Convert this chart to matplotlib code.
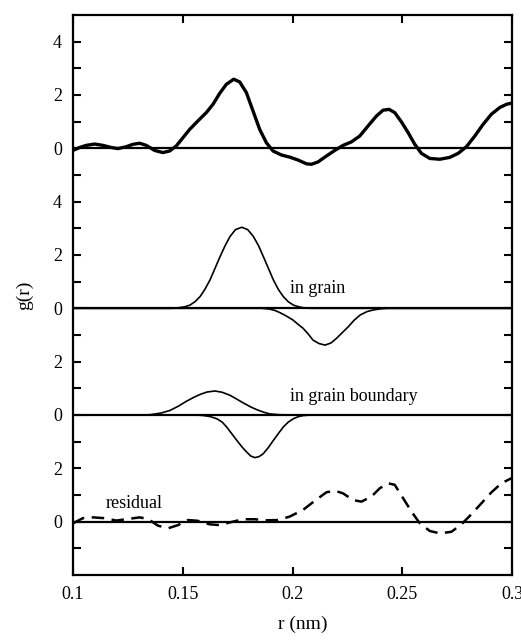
import matplotlib
matplotlib.use('Agg')
import matplotlib.pyplot as plt

plt.rcParams['font.family'] = ['Liberation Serif', 'DejaVu Serif']

# measured g(r) (top panel, offset 14)
r_meas = [0.1, 0.10304, 0.10607, 0.10987, 0.11367, 0.11746, 0.1205, 0.1243, 0.12733, 0.13037,
          0.13341, 0.13721, 0.141, 0.14404, 0.14708, 0.15011, 0.15315, 0.15695, 0.16074, 0.16378,
          0.16682, 0.16986, 0.1732, 0.17593, 0.17897, 0.182, 0.18504, 0.18808, 0.19112, 0.19491,
          0.19871, 0.20251, 0.2063, 0.20858, 0.21162, 0.21541, 0.21921, 0.22301, 0.2268, 0.2306,
          0.2344, 0.23819, 0.24123, 0.24396, 0.24654, 0.24958, 0.25262, 0.25566, 0.25869, 0.26249,
          0.26705, 0.2716, 0.2754, 0.27919, 0.28299, 0.28679, 0.29058, 0.29438, 0.29742, 0.3]
g_meas = [-0.08, 0.03, 0.11, 0.16, 0.11, 0.03, -0.01, 0.06, 0.15, 0.19,
          0.11, -0.08, -0.16, -0.1, 0.09, 0.4, 0.71, 1.03, 1.34, 1.65,
          2.06, 2.4, 2.59, 2.49, 2.09, 1.4, 0.71, 0.21, -0.1, -0.25,
          -0.33, -0.44, -0.58, -0.6, -0.51, -0.29, -0.08, 0.11, 0.24, 0.46,
          0.84, 1.21, 1.43, 1.46, 1.34, 0.99, 0.59, 0.15, -0.19, -0.38,
          -0.41, -0.34, -0.19, 0.06, 0.46, 0.9, 1.28, 1.53, 1.65, 1.7]

# in grain component (offset 8)
r_grain_pos = [0.1, 0.145, 0.148, 0.151, 0.1533, 0.1556, 0.1579, 0.16, 0.1624, 0.1647,
               0.167, 0.1693, 0.1715, 0.174, 0.1769, 0.1796, 0.1822, 0.1845, 0.1867, 0.189,
               0.1913, 0.1936, 0.1958, 0.198, 0.2004, 0.2027, 0.205, 0.208, 0.3]
g_grain_pos = [0.0, 0.0, 0.02, 0.06, 0.12, 0.25, 0.44, 0.7, 1.06, 1.5,
               1.94, 2.35, 2.69, 2.95, 3.04, 2.95, 2.69, 2.35, 1.94, 1.5,
               1.06, 0.7, 0.44, 0.25, 0.12, 0.06, 0.02, 0.0, 0.0]
r_grain_neg = [0.1, 0.186, 0.1896, 0.192, 0.1942, 0.197, 0.2002, 0.2025, 0.2048, 0.207,
               0.2093, 0.212, 0.2148, 0.2175, 0.2201, 0.2228, 0.2254, 0.228, 0.2308, 0.234,
               0.2369, 0.24, 0.243, 0.3]
g_grain_neg = [0.0, 0.0, -0.03, -0.08, -0.16, -0.28, -0.44, -0.6, -0.75, -0.95,
               -1.19, -1.32, -1.38, -1.3, -1.12, -0.9, -0.69, -0.45, -0.25, -0.12,
               -0.06, -0.02, 0.0, 0.0]

# in grain boundary component (offset 4)
r_gb_pos = [0.1, 0.132, 0.1351, 0.14, 0.1442, 0.148, 0.1518, 0.155, 0.1579, 0.161,
            0.1647, 0.168, 0.1715, 0.1745, 0.1776, 0.181, 0.1837, 0.187, 0.1897, 0.194,
            0.198, 0.3]
g_gb_pos = [0.0, 0.0, 0.01, 0.07, 0.17, 0.33, 0.52, 0.66, 0.77, 0.86,
            0.9, 0.85, 0.74, 0.6, 0.45, 0.3, 0.2, 0.1, 0.04, 0.01,
            0.0, 0.0]
r_gb_neg = [0.1, 0.156, 0.1594, 0.1625, 0.1655, 0.168, 0.17, 0.1723, 0.1746, 0.177,
            0.1791, 0.181, 0.1829, 0.1848, 0.1867, 0.189, 0.1913, 0.1935, 0.1958, 0.198,
            0.2004, 0.2027, 0.205, 0.209, 0.3]
g_gb_neg = [0.0, 0.0, -0.02, -0.06, -0.14, -0.27, -0.45, -0.7, -0.95, -1.2,
            -1.39, -1.54, -1.6, -1.56, -1.45, -1.22, -0.95, -0.7, -0.45, -0.27,
            -0.14, -0.06, -0.02, 0.0, 0.0]

# residual (offset 0)
r_res = [0.1, 0.10456, 0.10911, 0.11443, 0.11974, 0.12506, 0.13037, 0.13417, 0.13872, 0.14328,
         0.14784, 0.15239, 0.15695, 0.16226, 0.16682, 0.17137, 0.17745, 0.18276, 0.18808, 0.19339,
         0.19871, 0.20478, 0.2101, 0.21541, 0.21921, 0.22301, 0.22756, 0.23136, 0.23591, 0.23971,
         0.24351, 0.24654, 0.25034, 0.25414, 0.25793, 0.26249, 0.26705, 0.27236, 0.27692, 0.28147,
         0.28603, 0.29058, 0.29514, 0.2997]
g_res = [-0.06, 0.13, 0.16, 0.13, 0.04, 0.1, 0.16, 0.1, -0.15, -0.25,
         -0.13, 0.06, 0.03, -0.1, -0.13, -0.03, 0.09, 0.09, 0.05, 0.06,
         0.19, 0.44, 0.78, 1.1, 1.16, 1.06, 0.81, 0.75, 0.94, 1.25,
         1.44, 1.38, 0.88, 0.38, -0.06, -0.35, -0.44, -0.38, -0.1, 0.28,
         0.69, 1.1, 1.44, 1.63]

offsets = [14, 8, 4, 0]
ytick_pos = [18, 16, 14, 12, 10, 8, 6, 4, 2, 0]
ytick_lab = ['4', '2', '0', '4', '2', '0', '2', '0', '2', '0']
xtick_pos = [0.1, 0.15, 0.2, 0.25, 0.3]
xtick_lab = ['0.1', '0.15', '0.2', '0.25', '0.3']

fig = plt.figure(figsize=(5.21, 6.40), dpi=100)
ax = fig.add_axes([0.140, 0.1016, 0.843, 0.875])

for off in offsets:
    ax.axhline(off, color='black', lw=1.6)

kw = dict(color='black', solid_joinstyle='round', solid_capstyle='round')
ax.plot(r_meas, [v + 14 for v in g_meas], lw=2.4, **kw)
ax.plot(r_grain_pos, [v + 8 for v in g_grain_pos], lw=1.2, **kw)
ax.plot(r_grain_neg, [v + 8 for v in g_grain_neg], lw=1.2, **kw)
ax.plot(r_gb_pos, [v + 4 for v in g_gb_pos], lw=1.2, **kw)
ax.plot(r_gb_neg, [v + 4 for v in g_gb_neg], lw=1.2, **kw)
ax.plot(r_res, g_res, color='black', lw=1.8, dashes=(5, 3))

ax.text(0.1989, 8.42, 'in grain', fontsize=13, va='bottom', ha='left')
ax.text(0.1989, 4.36, 'in grain boundary', fontsize=13, va='bottom', ha='left')
ax.text(0.1149, 0.37, 'residual', fontsize=13, va='bottom', ha='left')

ax.set_xlim(0.1, 0.3)
ax.set_ylim(-2, 19)
ax.set_xticks(xtick_pos)
ax.set_xticklabels(xtick_lab)
ax.set_yticks(list(range(-1, 19)))
ax.set_yticklabels([ytick_lab[ytick_pos.index(v)] if v in ytick_pos else '' for v in range(-1, 19)])
ax.tick_params(direction='in', length=6, width=1.5, top=True, right=True,
               labelsize=13, pad=8)
for s in ax.spines.values():
    s.set_linewidth(1.6)

ax.set_xlabel('r (nm)', fontsize=14)
ax.xaxis.set_label_coords(0.524, -0.072)
ax.set_ylabel('g(r)', fontsize=14, labelpad=14)

fig.savefig('out.png', dpi=100)
